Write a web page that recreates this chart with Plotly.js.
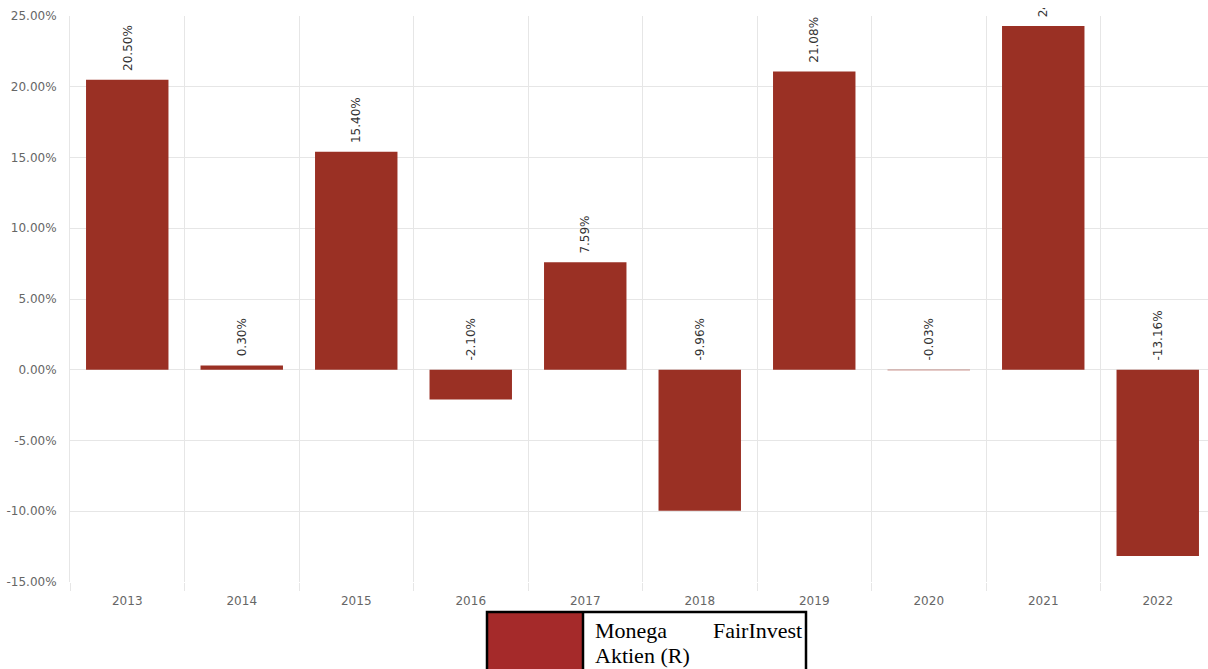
<!DOCTYPE html>
<html>
<head>
<meta charset="utf-8">
<script src="https://cdn.plot.ly/plotly-3.0.1.min.js"></script>
<style>
html,body{margin:0;padding:0;overflow:hidden;background:#fff;}
body{padding-top:8px;}
#chart{width:1216px;height:661px;}
</style>
</head>
<body>
<div id="chart"></div>
<script>
var years = ['2013','2014','2015','2016','2017','2018','2019','2020','2021','2022'];
var returns = [20.50, 0.30, 15.40, -2.10, 7.59, -9.96, 21.08, -0.03, 24.29, -13.16];
var yTickVals = [-15, -10, -5, 0, 5, 10, 15, 20, 25];
var yTickText = ['-15.00%', '-10.00%', '-5.00%', '0.00%', '5.00%', '10.00%', '15.00%', '20.00%', '25.00%'];
var seriesName = ['Monega', 'FairInvest', 'Aktien (R)'];

var W = 1216, H = 661, ML = 70, MR = 1, MT = 8, MB = 87;
var pw = W - ML - MR, ph = H - MT - MB;
function px(x){ return (x - ML) / pw; }
function py(y){ return (MT + ph - (y - 8)) / ph; }

var labels = returns.map(function(v){ return v.toFixed(2) + '%'; });
var sans = 'DejaVu Sans, Verdana, sans-serif';

var annotations = [];
for (var i = 0; i < years.length; i++) {
  annotations.push({
    x: i, y: Math.max(returns[i], 0), xref: 'x', yref: 'y',
    text: labels[i], showarrow: false, textangle: -90,
    xanchor: 'center', yanchor: 'bottom', yshift: 7,
    font: {family: sans, size: 12, color: '#333333'}
  });
}

var serif = {family: 'Liberation Serif, Times New Roman, serif', size: 22, color: '#000000'};
annotations.push({xref:'paper', yref:'paper', x: px(593), y: py(630), xanchor:'left', yanchor:'middle', text: seriesName[0], showarrow:false, font: serif});
annotations.push({xref:'paper', yref:'paper', x: px(804), y: py(630), xanchor:'right', yanchor:'middle', text: seriesName[1], showarrow:false, font: serif});
annotations.push({xref:'paper', yref:'paper', x: px(593), y: py(655), xanchor:'left', yanchor:'middle', text: seriesName[2], showarrow:false, font: serif});

var shapes = [
  {type:'rect', xref:'paper', yref:'paper', x0: px(487), x1: px(583), y0: py(612), y1: py(720), fillcolor:'#a52a2a', line:{width:0}},
  {type:'rect', xref:'paper', yref:'paper', x0: px(487), x1: px(806), y0: py(612), y1: py(720), fillcolor:'rgba(0,0,0,0)', line:{color:'#000000', width:2.5}},
  {type:'line', xref:'paper', yref:'paper', x0: px(583), x1: px(583), y0: py(612), y1: py(720), line:{color:'#000000', width:2.5}}
];

var trace = {
  type: 'bar', x: years, y: returns,
  marker: {color: '#9a3024', line: {width: 0}},
  hoverinfo: 'x+y', name: seriesName.join(' ')
};

var layout = {
  width: W, height: H,
  margin: {l: ML, r: MR, t: MT, b: MB, pad: 0},
  paper_bgcolor: '#ffffff', plot_bgcolor: '#ffffff',
  showlegend: false, bargap: 0.28,
  font: {family: sans, size: 12, color: '#666666'},
  xaxis: {
    type: 'category', tickson: 'boundaries', ticks: 'outside', ticklen: 8, tickcolor: '#e6e6e6',
    showgrid: true, gridcolor: '#e6e6e6', gridwidth: 1, showline: false, zeroline: false,
    ticklabelstandoff: 10,
    tickfont: {family: sans, size: 12, color: '#666666'},
    range: [-0.5, 9.5]
  },
  yaxis: {
    range: [-15, 25], tickvals: yTickVals, ticktext: yTickText,
    showgrid: true, gridcolor: '#e6e6e6', gridwidth: 1, zeroline: false,
    showline: true, linecolor: '#e6e6e6', linewidth: 1,
    ticks: '', ticklabelstandoff: 10,
    tickfont: {family: sans, size: 12, color: '#666666'}
  },
  annotations: annotations,
  shapes: shapes
};

Plotly.newPlot('chart', [trace], layout, {displayModeBar: false, staticPlot: true});
</script>
</body>
</html>
